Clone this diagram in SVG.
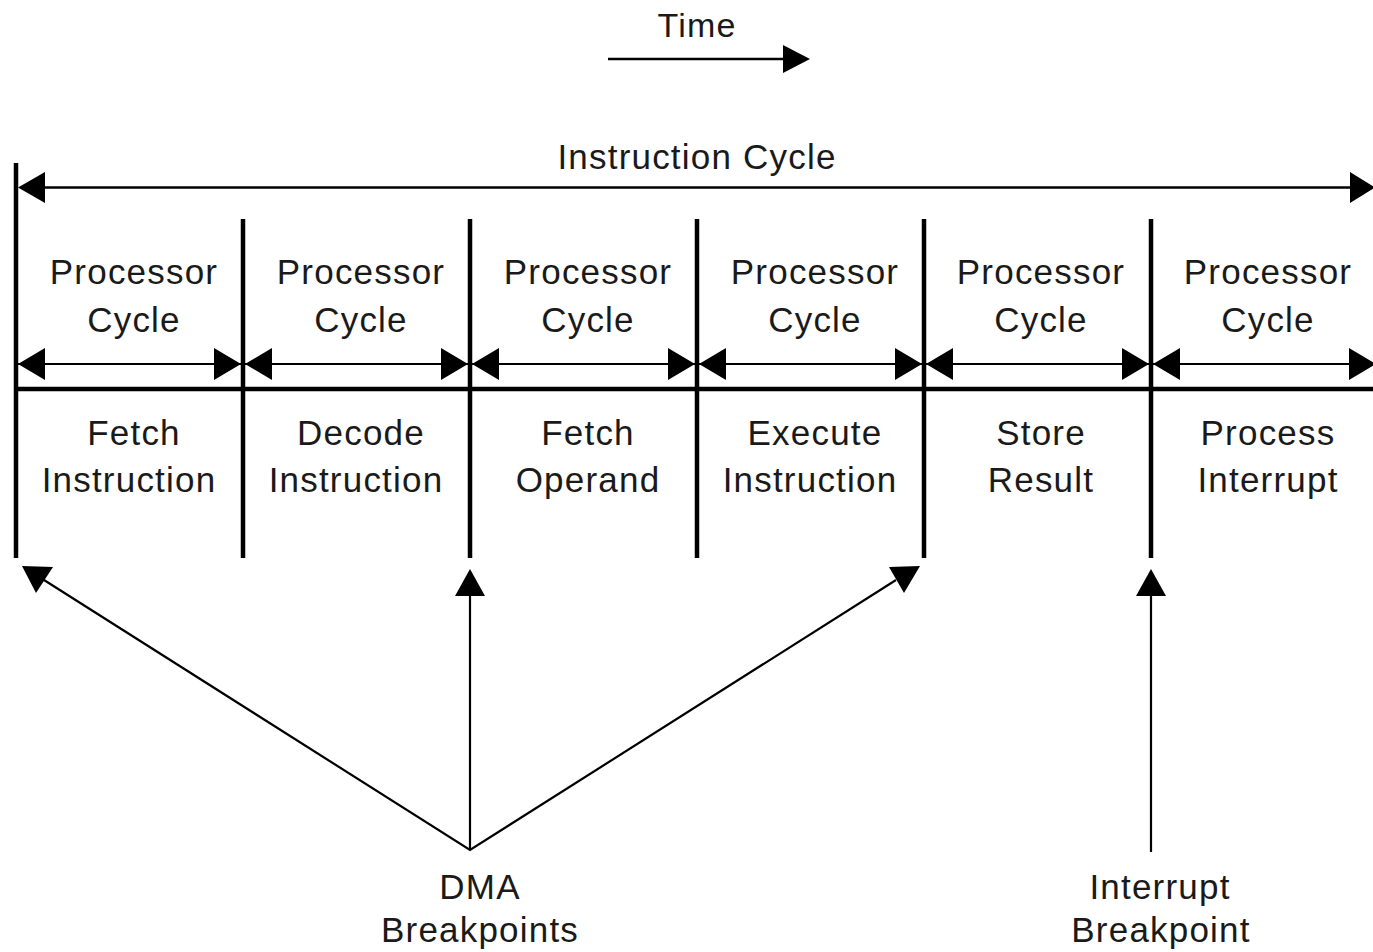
<svg xmlns="http://www.w3.org/2000/svg" width="1373" height="952" viewBox="0 0 1373 952">
  <style>
    text { font-family: "Liberation Sans", Arial, sans-serif; font-size: 35px; fill: #1a1a1a; text-anchor: middle; letter-spacing: 1.2px; }
    .thick { stroke: #000; stroke-width: 4.5; fill: none; }
    .thin { stroke: #000; stroke-width: 2.2; fill: none; }
    .head { fill: #000; stroke: none; }
  </style>
  <rect width="1373" height="952" fill="#fff"/>

  <g id="time">
    <text x="697" y="37" style="font-size:34px">Time</text>
  </g>

  <g id="instruction-cycle">
    <text x="697" y="169">Instruction Cycle</text>
  </g>

  <g id="cycle-1">
    <text x="134" y="284">Processor</text>
    <text x="134" y="332">Cycle</text>
    <text x="134" y="445">Fetch</text>
    <text x="129" y="492">Instruction</text>
  </g>
  <g id="cycle-2">
    <text x="361" y="284">Processor</text>
    <text x="361" y="332">Cycle</text>
    <text x="361" y="445">Decode</text>
    <text x="356" y="492">Instruction</text>
  </g>
  <g id="cycle-3">
    <text x="588" y="284">Processor</text>
    <text x="588" y="332">Cycle</text>
    <text x="588" y="445">Fetch</text>
    <text x="588" y="492">Operand</text>
  </g>
  <g id="cycle-4">
    <text x="815" y="284">Processor</text>
    <text x="815" y="332">Cycle</text>
    <text x="815" y="445">Execute</text>
    <text x="810" y="492">Instruction</text>
  </g>
  <g id="cycle-5">
    <text x="1041" y="284">Processor</text>
    <text x="1041" y="332">Cycle</text>
    <text x="1041" y="445">Store</text>
    <text x="1041" y="492">Result</text>
  </g>
  <g id="cycle-6">
    <text x="1268" y="284">Processor</text>
    <text x="1268" y="332">Cycle</text>
    <text x="1268" y="445">Process</text>
    <text x="1268" y="492">Interrupt</text>
  </g>

  <g id="dma-breakpoints">
    <text x="480" y="899">DMA</text>
    <text x="480" y="942">Breakpoints</text>
  </g>
  <g id="interrupt-breakpoint">
    <text x="1160" y="899">Interrupt</text>
    <text x="1161" y="942">Breakpoint</text>
  </g>

  <g id="connectors">
    <!-- time arrow -->
    <line class="thin" x1="608" y1="59" x2="786" y2="59" style="stroke-width:2.6"/>
    <polygon class="head" points="810,59 783,45 783,73"/>

    <!-- instruction cycle arrow -->
    <line class="thin" x1="30" y1="187.5" x2="1360" y2="187.5" style="stroke-width:2.6"/>
    <polygon class="head" points="18,187.5 45,172 45,203"/>
    <polygon class="head" points="1375,187.5 1350,172 1350,203"/>

    <!-- vertical boundaries -->
    <line class="thick" x1="16" y1="163" x2="16" y2="558"/>
    <line class="thick" x1="243" y1="219" x2="243" y2="558"/>
    <line class="thick" x1="470" y1="219" x2="470" y2="558"/>
    <line class="thick" x1="697" y1="219" x2="697" y2="558"/>
    <line class="thick" x1="924" y1="219" x2="924" y2="558"/>
    <line class="thick" x1="1151" y1="219" x2="1151" y2="558"/>

    <!-- main horizontal line -->
    <line class="thick" x1="16" y1="389" x2="1373" y2="389"/>

    <!-- processor cycle arrows -->
    <line class="thin" x1="18" y1="364" x2="1373" y2="364"/>
    <polygon class="head" points="18,364 45,348 45,380"/>
    <polygon class="head" points="241,364 214,348 214,380"/>
    <polygon class="head" points="245,364 272,348 272,380"/>
    <polygon class="head" points="468,364 441,348 441,380"/>
    <polygon class="head" points="472,364 499,348 499,380"/>
    <polygon class="head" points="695,364 668,348 668,380"/>
    <polygon class="head" points="699,364 726,348 726,380"/>
    <polygon class="head" points="922,364 895,348 895,380"/>
    <polygon class="head" points="926,364 953,348 953,380"/>
    <polygon class="head" points="1149,364 1122,348 1122,380"/>
    <polygon class="head" points="1153,364 1180,348 1180,380"/>
    <polygon class="head" points="1376,364 1349,348 1349,380"/>

    <!-- DMA breakpoint arrows -->
    <polyline class="thin" points="44,580 470,850 896,580"/>
    <polygon class="head" points="22,566 53,567 36,593"/>
    <polygon class="head" points="920,566 889,567 904,593"/>
    <line class="thin" x1="470" y1="850" x2="470" y2="594"/>
    <polygon class="head" points="470,569 455,596 485,596"/>

    <!-- interrupt breakpoint arrow -->
    <line class="thin" x1="1151" y1="852" x2="1151" y2="594"/>
    <polygon class="head" points="1151,569 1136,596 1166,596"/>
  </g>
</svg>
